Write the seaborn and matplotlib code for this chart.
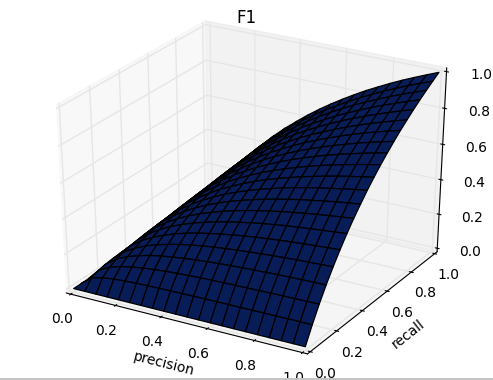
import numpy as np
import pandas as pd
import matplotlib
matplotlib.use("Agg")
import matplotlib.pyplot as plt
from matplotlib.patches import Rectangle
import seaborn as sns

sns.set_style("white")
plt.rcParams["axes3d.automargin"] = True
plt.rcParams["font.family"] = ["DejaVu Sans"]
plt.rcParams.update({"text.color": "black", "axes.labelcolor": "black",
                     "xtick.color": "black", "ytick.color": "black"})

# axis steps (0.05 spacing) and upper triangle of surface heights read per row
steps = [round(0.05 * i, 2) for i in range(21)]
upper_rows = [
    [0] * 21,
    [.05, .067, .075, .08, .083, .086, .0875, .089, .09, .091, .092, .092, .093, .093, .094, .094, .094, .095, .095, .095],
    [.10, .12, .133, .143, .15, .156, .16, .164, .167, .169, .171, .173, .175, .176, .178, .179, .18, .181, .182],
    [.15, .171, .188, .2, .21, .218, .225, .231, .236, .24, .244, .247, .25, .253, .255, .257, .259, .261],
    [.2, .222, .24, .255, .267, .277, .286, .293, .3, .306, .311, .316, .32, .324, .327, .33, .333],
    [.25, .273, .292, .308, .321, .333, .344, .353, .361, .368, .375, .381, .386, .391, .396, .4],
    [.3, .323, .343, .36, .375, .388, .4, .411, .42, .429, .436, .443, .45, .456, .462],
    [.35, .373, .394, .412, .428, .442, .455, .467, .477, .487, .496, .504, .512, .519],
    [.4, .424, .444, .463, .48, .495, .509, .522, .533, .544, .554, .563, .571],
    [.45, .474, .495, .514, .532, .548, .563, .576, .588, .6, .611, .621],
    [.5, .524, .545, .565, .583, .6, .615, .63, .643, .655, .667],
    [.55, .574, .596, .616, .635, .652, .668, .683, .697, .71],
    [.6, .624, .646, .667, .686, .703, .72, .735, .75],
    [.65, .674, .696, .717, .737, .755, .772, .788],
    [.7, .724, .747, .768, .788, .806, .824],
    [.75, .774, .797, .818, .838, .857],
    [.8, .824, .847, .869, .889],
    [.85, .874, .897, .919],
    [.9, .924, .947],
    [.95, .974],
    [1.0],
]
tick_values = [0.0, 0.2, 0.4, 0.6, 0.8, 1.0]

Z = np.zeros((21, 21))
for i, row in enumerate(upper_rows):
    Z[i, 21 - len(row):] = row
Z = Z + np.triu(Z, 1).T
table = pd.DataFrame(Z, index=steps, columns=steps)
P, R = np.meshgrid(table.columns.values, table.index.values)

surface_color = sns.dark_palette("#081c58", 3)[-1]

fig = plt.figure(figsize=(4.93, 3.80), dpi=100)
ax = fig.add_axes([0.003, 0.009, 1.0, 1.0], projection="3d")
# stretch the projected box to the full rectangle instead of keeping it square
ax.apply_aspect = lambda position=None: ax._set_position(ax.get_position(original=True), "active")
ax.view_init(elev=30, azim=-60)
ax.set_box_aspect((1, 1, 1), zoom=0.95)
ax.plot_surface(P, R, table.values, rstride=1, cstride=1, color=surface_color,
                edgecolor="black", linewidth=0.9, shade=False, antialiased=True)
ax.set_xlim(0, 1); ax.set_ylim(0, 1); ax.set_zlim(0, 1)
ax.set_xticks(tick_values); ax.set_yticks(tick_values); ax.set_zticks(tick_values)
for axis, pane in zip((ax.xaxis, ax.yaxis, ax.zaxis),
                      ((.95, .95, .95, .5), (.9, .9, .9, .5), (.925, .925, .925, .5))):
    axis.set_pane_color(pane)
    axis._axinfo["grid"].update(color=(.9, .9, .9, 1), linewidth=1.0)
    axis._axinfo["tick"].update(inward_factor=0.1, outward_factor=0.1, color="black")
    axis.line.set_color("black"); axis.line.set_linewidth(0.8)
ax.tick_params(axis="x", labelsize=10, pad=2.5, labelcolor="black", color="black")
ax.tick_params(axis="y", labelsize=10, pad=2, labelcolor="black", color="black")
ax.tick_params(axis="z", labelsize=10, pad=7, labelcolor="black", color="black")
ax.set_xlabel("precision", fontsize=10, labelpad=2.5, color="black")
ax.set_ylabel("recall", fontsize=10, labelpad=2, color="black")
fig.text(0.5, 0.953, "F1", ha="center", va="center", fontsize=12, color="black")
fig.add_artist(Rectangle((0, 0), 1, 2 / 380, transform=fig.transFigure, color="#c4c4c4", lw=0))
fig.savefig("out.png", dpi=100, facecolor="white")
